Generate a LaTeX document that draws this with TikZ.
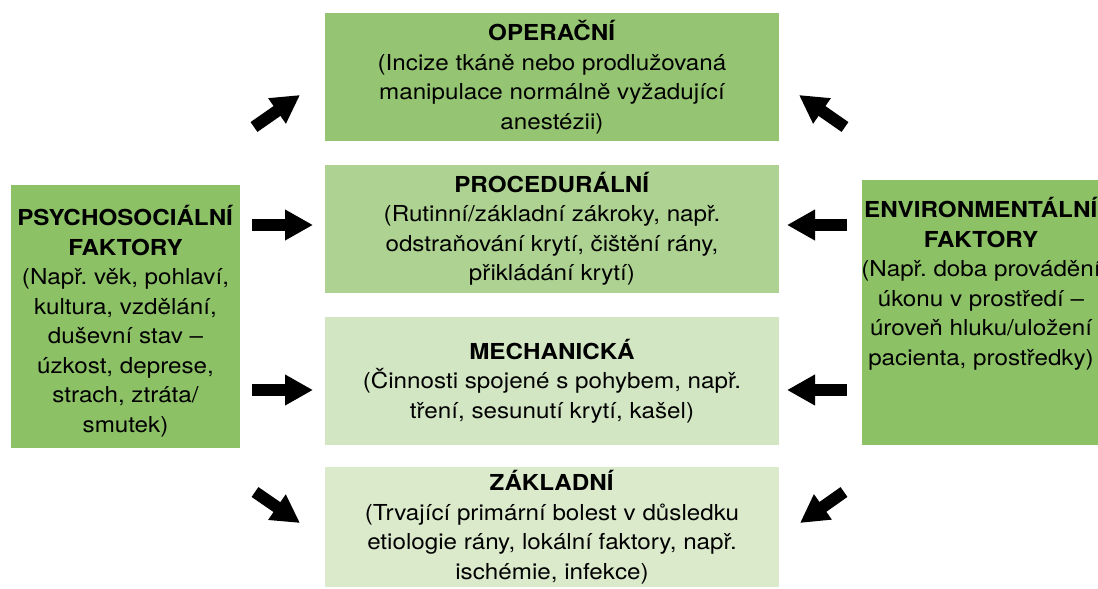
\documentclass[tikz,border=0pt]{standalone}
\usepackage{fontspec}
\setmainfont[FakeStretch=1.1]{TeX Gyre Heros}
\usetikzlibrary{arrows.meta}
\frenchspacing
\definecolor{sidegreen}{HTML}{8DC166}
\definecolor{opgreen}{HTML}{95C572}
\definecolor{procgreen}{HTML}{ADD291}
\definecolor{mechgreen}{HTML}{D3E6C3}
\definecolor{basegreen}{HTML}{DCEACC}
\begin{document}
\begin{tikzpicture}[x=1pt,y=-1pt,
  txt/.style={inner sep=0pt, align=center, font=\fontsize{22}{29.5}\selectfont\frenchspacing},
  centrebox/.style={txt, minimum width=454pt, minimum height=128pt},
  sidebox/.style={inner sep=0pt, fill=sidegreen},
  bigarrow/.style={line width=12pt, -{Triangle[length=28pt,width=29pt]}}]
\useasboundingbox (0,0) rectangle (1098,589);
\clip (0,0) rectangle (1098,589);
% centre boxes
\node[centrebox, fill=opgreen] (oper) at (552,77)
  {\textbf{OPERAČNÍ}\\(Incize tkáně nebo prodlužovaná\\manipulace normálně vyžadující\\anestézii)};
\node[centrebox, fill=procgreen] (proc) at (552,229)
  {\textbf{PROCEDURÁLNÍ}\\(Rutinní/základní zákroky, např.\\odstraňování krytí, čištění rány,\\přikládání krytí)};
\node[centrebox, fill=mechgreen] (mech) at (552,381)
  {\textbf{MECHANICKÁ}\\(Činnosti spojené s pohybem, např.\\tření, sesunutí krytí, kašel)};
\node[centrebox, fill=basegreen, minimum height=120pt] (base) at (552,527)
  {\textbf{ZÁKLADNÍ}\\(Trvající primární bolest v důsledku\\etiologie rány, lokální faktory, např.\\ischémie, infekce)};
% side boxes
\node[sidebox, minimum width=229pt, minimum height=263pt] (psyb) at (125.5,316.5) {};
\node[txt] (psyt) at (125.5,321)
  {\textbf{PSYCHOSOCIÁLNÍ}\\\textbf{FAKTORY}\\(Např. věk, pohlaví,\\kultura, vzdělání,\\duševní stav –\\úzkost, deprese,\\strach, ztráta/\\smutek)};
\node[sidebox, minimum width=238pt, minimum height=265pt] (envb) at (981,312.5) {};
\node[txt] (envt) at (981,284)
  {\textbf{ENVIRONMENTÁLNÍ}\\\textbf{FAKTORY}\\(Např. doba provádění\\úkonu v prostředí –\\úroveň hluku/uložení\\pacienta, prostředky)};
% arrow end points
\coordinate (l1s) at (254,127); \coordinate (l1e) at (300,95);
\coordinate (l2s) at (252,225); \coordinate (l2e) at (313,225);
\coordinate (l3s) at (252,390); \coordinate (l3e) at (313,390);
\coordinate (l4s) at (255,492); \coordinate (l4e) at (300,523);
\coordinate (r1s) at (845,127); \coordinate (r1e) at (799,95);
\coordinate (r2s) at (847,225); \coordinate (r2e) at (787,225);
\coordinate (r3s) at (847,390); \coordinate (r3e) at (787,390);
\coordinate (r4s) at (844,492); \coordinate (r4e) at (800,523);
\foreach \a in {l1,l2,l3,l4,r1,r2,r3,r4}
  \draw[bigarrow] (\a s) -- (\a e);
\end{tikzpicture}
\end{document}
